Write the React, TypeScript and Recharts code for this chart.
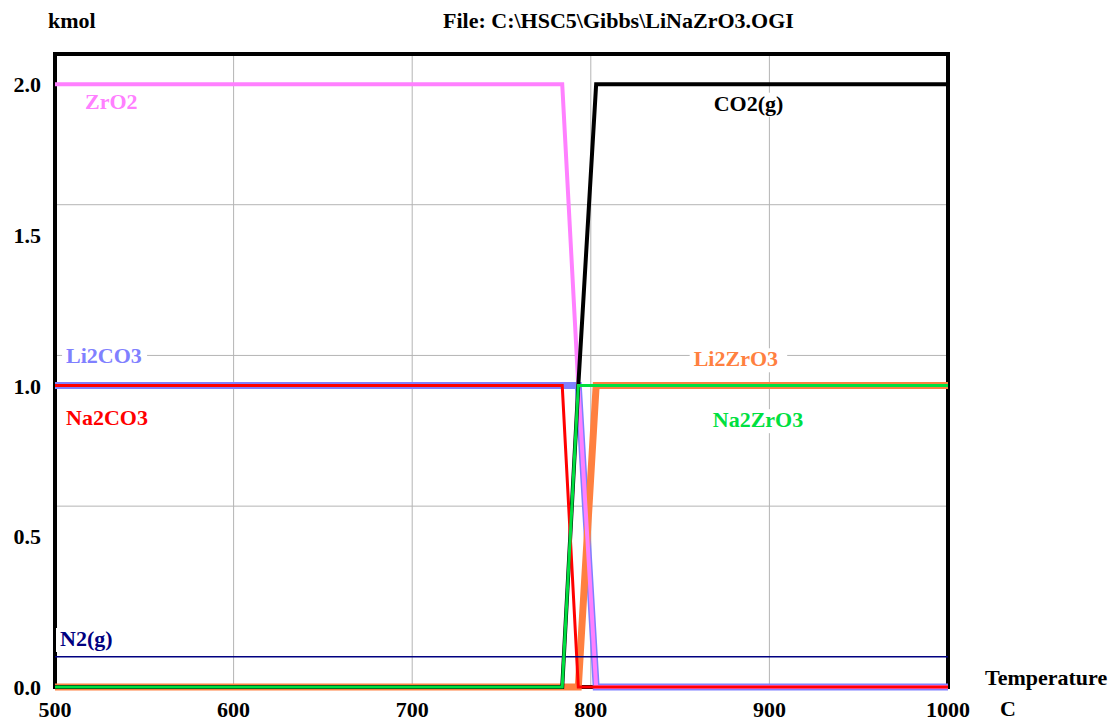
import React from 'react';
import {
  LineChart,
  Line,
  XAxis,
  YAxis,
  CartesianGrid,
  ReferenceArea,
  ReferenceDot,
} from 'recharts';

// equilibrium amounts
const temps = [500, 784, 793, 803, 1000];
const zrO2 = [2, 2, 1, 0, 0];
const co2 = [0, 0, 1, 2, 2];
const li2co3 = [1, 1, 1, 0, 0];
const na2co3 = [1, 1, 0, 0, 0];
const li2zro3 = [0, 0, 0, 1, 1];
const na2zro3 = [0, 0, 1, 1, 1];
const n2 = [0.1, 0.1, 0.1, 0.1, 0.1];

const xTicks = [500, 600, 700, 800, 900, 1000];
const yTicks = [0, 0.5, 1.0, 1.5, 2.0];
const gridX = [600, 700, 800, 900];
const gridY = [0.6, 1.1, 1.6];

const labelNames = ['ZrO2', 'CO2(g)', 'Li2CO3', 'Li2ZrO3', 'Na2CO3', 'Na2ZrO3', 'N2(g)'];
const labelX = [516.8, 868.8, 506.2, 857.6, 506.2, 868.3, 502.8];
const labelY = [1.919, 1.912, 1.074, 1.064, 0.868, 0.862, 0.136];
const labelColors = ['#ff80ff', '#000000', '#8080ff', '#ff8040', '#ff0000', '#00e040', '#000080'];

const data = temps.map((t, i) => ({
  t,
  zrO2: zrO2[i],
  co2: co2[i],
  li2co3: li2co3[i],
  na2co3: na2co3[i],
  li2zro3: li2zro3[i],
  na2zro3: na2zro3[i],
  n2: n2[i],
}));

const FONT = '"Liberation Serif", "Times New Roman", serif';
const FS = 22;

function YTick(props: any) {
  const { y, payload } = props;
  return (
    <text x={41} y={y + 8} textAnchor="end" fontFamily={FONT} fontWeight="bold" fontSize={FS} fill="#000">
      {Number(payload.value).toFixed(1)}
    </text>
  );
}

function XTick(props: any) {
  const { x, y, payload } = props;
  return (
    <text x={x} y={y + 22} textAnchor="middle" fontFamily={FONT} fontWeight="bold" fontSize={FS} fill="#000">
      {payload.value}
    </text>
  );
}

function makeLabel(name: string, color: string) {
  return (p: any) => {
    const w = name.length * 12.5 + 10;
    return (
      <g>
        <rect x={p.cx - 4} y={p.cy - 18} width={w} height={24} fill="#fff" />
        <text x={p.cx} y={p.cy} fontFamily={FONT} fontWeight="bold" fontSize={FS} fill={color}>
          {name}
        </text>
      </g>
    );
  };
}

export default function App() {
  return (
    <div style={{ position: 'absolute', left: 0, top: 0, width: 1112, height: 721, background: '#fff' }}>
      <LineChart
        width={1112}
        height={721}
        data={data}
        margin={{ top: 54, right: 164, bottom: 0, left: 0 }}
      >
        <CartesianGrid
          stroke="#b4b4b4"
          strokeWidth={1}
          horizontalValues={gridY}
          verticalValues={gridX}
        />
        <XAxis
          dataKey="t"
          type="number"
          domain={[500, 1000]}
          ticks={xTicks}
          axisLine={false}
          tickLine={false}
          height={34}
          tick={<XTick />}
          interval={0}
        />
        <YAxis
          type="number"
          domain={[0, 2.1]}
          ticks={yTicks}
          axisLine={false}
          tickLine={false}
          width={55}
          tick={<YTick />}
          interval={0}
        />
        <Line dataKey="li2co3" stroke="#8080ff" strokeWidth={7} dot={false} isAnimationActive={false} />
        <Line dataKey="li2zro3" stroke="#ff8040" strokeWidth={7} dot={false} isAnimationActive={false} />
        <Line dataKey="zrO2" stroke="#ff80ff" strokeWidth={4} dot={false} isAnimationActive={false} />
        <Line dataKey="co2" stroke="#000000" strokeWidth={4} dot={false} isAnimationActive={false} />
        <Line dataKey="na2co3" stroke="#ff0000" strokeWidth={3} dot={false} isAnimationActive={false} />
        <Line dataKey="n2" stroke="#000080" strokeWidth={1.5} dot={false} isAnimationActive={false} />
        <Line dataKey="na2zro3" stroke="#00e040" strokeWidth={3} dot={false} isAnimationActive={false} />
        <ReferenceArea x1={500} x2={1000} y1={0} y2={2.1} fill="none" fillOpacity={0} stroke="#000" strokeWidth={4} ifOverflow="visible" />
        {labelNames.map((name, i) => (
          <ReferenceDot
            key={name}
            x={labelX[i]}
            y={labelY[i]}
            r={0}
            ifOverflow="visible"
            shape={makeLabel(name, labelColors[i])}
          />
        ))}
      </LineChart>
      <svg
        width={1112}
        height={721}
        style={{ position: 'absolute', left: 0, top: 0, pointerEvents: 'none' }}
      >
        <g fontFamily={FONT} fontWeight="bold" fontSize={FS} fill="#000">
          <text x={48} y={28}>kmol</text>
          <text x={443} y={28}>File: C:\HSC5\Gibbs\LiNaZrO3.OGI</text>
          <text x={985} y={685}>Temperature</text>
          <text x={1000} y={716}>C</text>
        </g>
      </svg>
    </div>
  );
}
